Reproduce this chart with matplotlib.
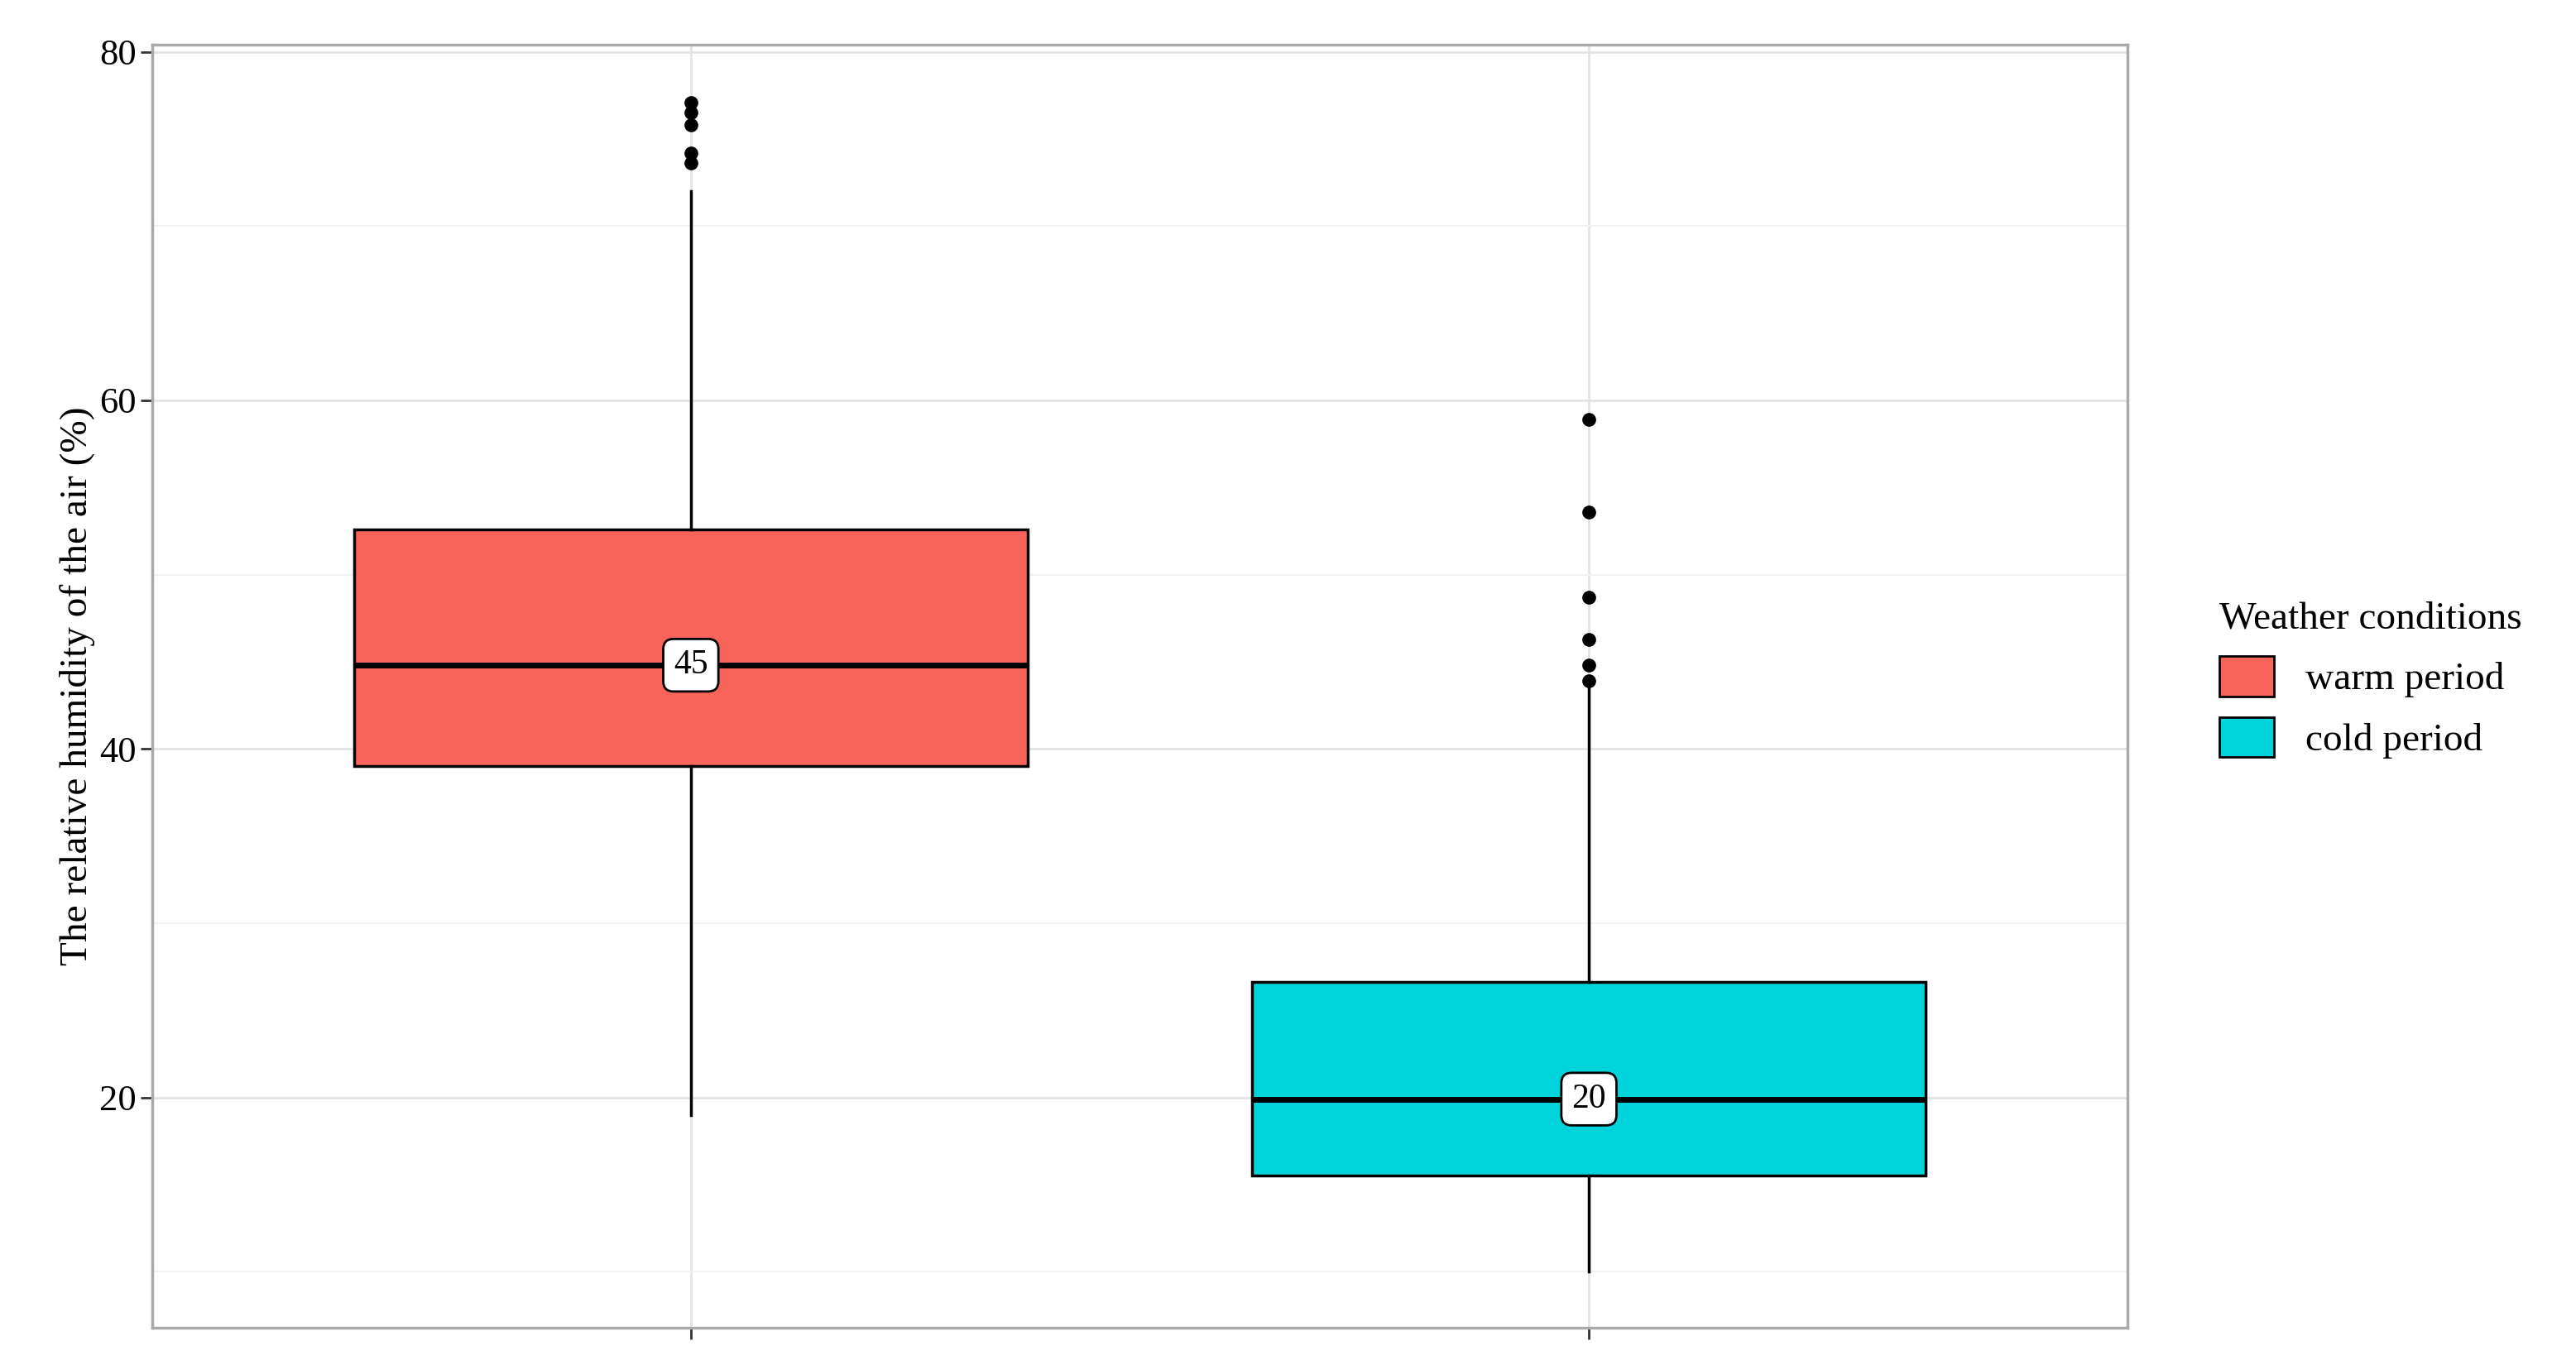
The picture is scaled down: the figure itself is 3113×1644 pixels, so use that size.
import matplotlib
matplotlib.use("Agg")
import matplotlib.pyplot as plt
from matplotlib.patches import Patch

groups = ["warm period", "cold period"]
colors = ["#F8635A", "#00D3DC"]
q1 = [39.0, 15.5]
med = [44.8, 19.9]
q3 = [52.6, 26.6]
wlo = [19.0, 10.0]
whi = [72.0, 43.5]
fliers = [[73.6, 74.2, 75.8, 76.5, 77.1], [43.9, 44.8, 46.3, 48.7, 53.6, 58.9]]
labels = ["45", "20"]

plt.rcParams['font.family'] = ['Liberation Serif', 'DejaVu Serif']
fig = plt.figure(figsize=(31.13, 16.44), dpi=100)
ax = fig.add_axes([0.059, 0.024, 0.767, 0.943])

stats = [dict(med=med[i], q1=q1[i], q3=q3[i], whislo=wlo[i], whishi=whi[i],
              fliers=fliers[i], label=groups[i]) for i in range(2)]
bp = ax.bxp(stats, positions=[1, 2], widths=0.75, patch_artist=True,
            showcaps=False,
            boxprops=dict(linewidth=2.5, edgecolor='black'),
            medianprops=dict(color='black', linewidth=5),
            whiskerprops=dict(linewidth=2.5, color='black'),
            flierprops=dict(marker='o', markerfacecolor='black', markeredgecolor='black', markersize=11))
for patch, c in zip(bp['boxes'], colors):
    patch.set_facecolor(c)
for i in range(2):
    ax.text(i + 1, med[i], labels[i], ha='center', va='center', fontsize=30,
            bbox=dict(boxstyle='round,pad=0.3', facecolor='white', edgecolor='black', linewidth=2), zorder=5)

ax.set_xlim(0.4, 2.6)
ax.set_ylim(6.8, 80.4)
ax.set_yticks([20, 40, 60, 80])
ax.set_yticks([10, 30, 50, 70], minor=True)
ax.set_xticks([1, 2])
ax.set_xticklabels(["", ""])
ax.grid(True, which='major', color='#E3E3E3', linewidth=2)
ax.grid(True, which='minor', axis='y', color='#F2F2F2', linewidth=1.5)
ax.set_axisbelow(True)
ax.tick_params(axis='both', which='major', labelsize=32, length=10, width=2, color='#333333')
ax.tick_params(axis='y', which='minor', length=0)
for s in ax.spines.values():
    s.set_color('#AAAAAA')
    s.set_linewidth(2.5)
ax.set_ylabel("The relative humidity of the air (%)", fontsize=34)

handles = [Patch(facecolor=c, edgecolor='black', linewidth=2) for c in colors]
leg = fig.legend(handles, groups, title="Weather conditions", loc='center left',
                 bbox_to_anchor=(0.848, 0.5), fontsize=34, title_fontsize=34,
                 frameon=False, handlelength=1.4, handleheight=1.2)
leg._legend_box.align = "left"
fig.savefig("out.png", dpi=100)
